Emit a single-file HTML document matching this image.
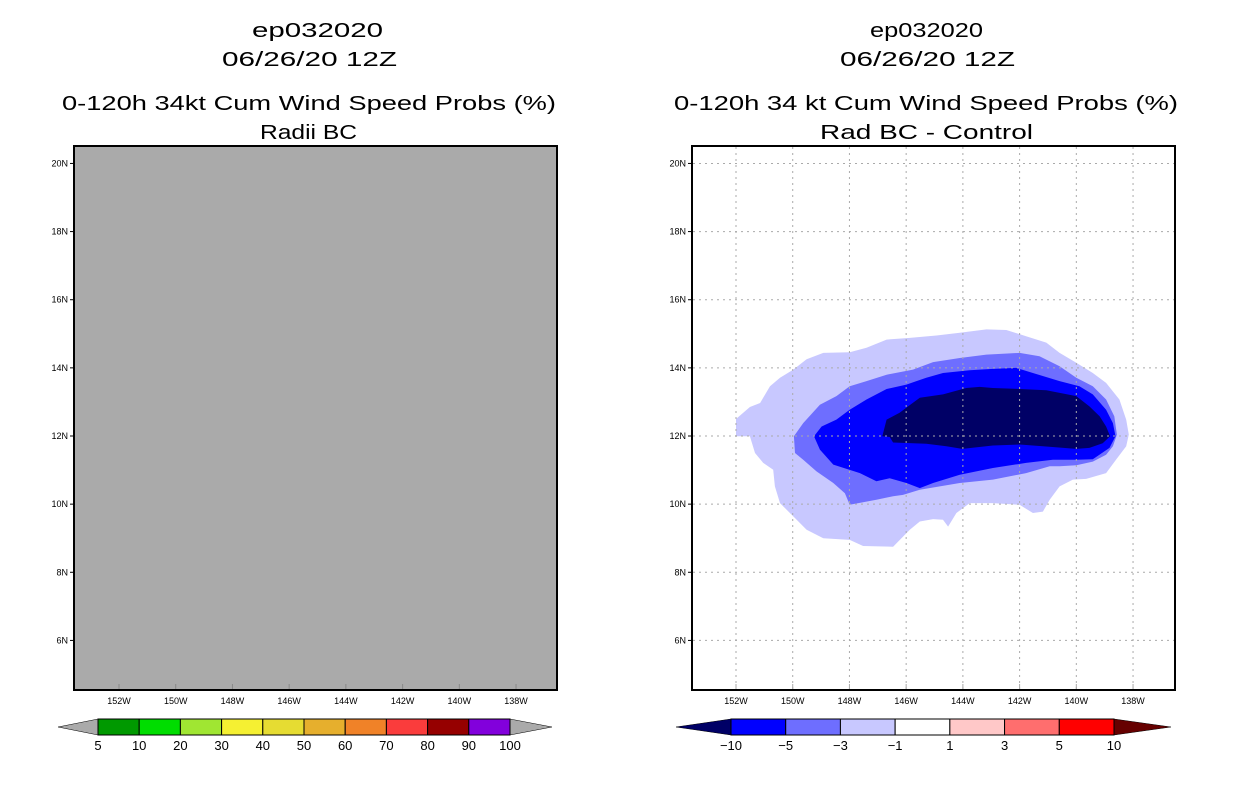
<!DOCTYPE html>
<html><head><meta charset="utf-8"><style>
body{margin:0;background:#fff;}
svg text{font-family:"Liberation Sans",sans-serif;}
</style></head><body>
<svg id="s" width="1236" height="800" xmlns="http://www.w3.org/2000/svg">
<g font-size="20" fill="#000">
<text x="252" y="37" textLength="131" lengthAdjust="spacingAndGlyphs">ep032020</text>
<text x="222" y="66" textLength="175" lengthAdjust="spacingAndGlyphs">06/26/20 12Z</text>
<text x="62" y="110" textLength="494" lengthAdjust="spacingAndGlyphs">0-120h 34kt Cum Wind Speed Probs (%)</text>
<text x="260" y="139" textLength="97" lengthAdjust="spacingAndGlyphs">Radii BC</text>
</g>
<g font-size="20" fill="#000">
<text x="870" y="37" textLength="113" lengthAdjust="spacingAndGlyphs">ep032020</text>
<text x="840" y="66" textLength="175" lengthAdjust="spacingAndGlyphs">06/26/20 12Z</text>
<text x="674" y="110" textLength="504" lengthAdjust="spacingAndGlyphs">0-120h 34 kt Cum Wind Speed Probs (%)</text>
<text x="820" y="139" textLength="213" lengthAdjust="spacingAndGlyphs">Rad BC - Control</text>
</g>
<g id="L"></g>
<g id="R"></g>
<g id="CB"></g>
</svg>
<script>
const lonTicks=[152,150,148,146,144,142,140,138];
const latTicks=[20,18,16,14,12,10,8,6];
const leftLevels=["5","10","20","30","40","50","60","70","80","90","100"];
const leftColors=["#009900","#00dd00","#a0e632","#f5f032","#e6dc32","#e6af2d","#f08228","#fa3c3c","#960000","#8200dc"];
const rightLevels=["-10","-5","-3","-1","1","3","5","10"];
const rightColors=["#0000ff","#6e6eff","#c8c8ff","#ffffff","#ffc8c8","#ff6e6e","#ff0000"];
const lightArea=[[152.00,12.50],[151.51,12.85],[151.15,12.97],[150.80,13.46],[150.45,13.71],[149.98,13.95],[149.51,14.25],[148.92,14.44],[147.99,14.46],[147.40,14.59],[146.69,14.83],[145.87,14.88],[144.93,14.95],[144.11,15.03],[143.17,15.13],[142.47,15.11],[141.77,14.93],[141.06,14.74],[140.59,14.44],[140.00,14.15],[139.42,13.85],[138.95,13.56],[138.48,13.07],[138.24,12.48],[138.15,12.04],[138.24,11.70],[138.60,11.30],[138.95,10.91],[139.65,10.74],[140.12,10.72],[140.59,10.52],[140.94,10.13],[141.18,9.78],[141.53,9.74],[142.00,9.98],[142.94,10.03],[143.76,10.03],[144.23,9.74],[144.52,9.34],[144.70,9.54],[145.05,9.56],[145.52,9.49],[145.87,9.25],[146.46,8.75],[147.52,8.77],[147.99,8.95],[148.92,9.00],[149.51,9.25],[149.98,9.64],[150.45,10.03],[150.63,10.52],[150.69,11.01],[151.04,11.21],[151.33,11.50],[151.51,11.99],[152.00,11.99]];
const mediumArea=[[149.96,11.99],[149.63,12.38],[149.04,12.92],[148.46,13.17],[147.99,13.46],[147.40,13.61],[146.69,13.80],[145.76,13.95],[145.05,14.17],[144.11,14.29],[143.17,14.39],[142.00,14.44],[141.30,14.34],[140.59,14.05],[140.00,13.71],[139.42,13.46],[138.95,13.07],[138.66,12.58],[138.57,12.04],[138.71,11.70],[138.95,11.45],[139.42,11.25],[140.00,11.14],[140.59,11.11],[140.94,11.11],[141.77,10.91],[142.94,10.72],[144.11,10.62],[145.52,10.42],[146.11,10.27],[146.46,10.23],[147.05,10.13],[147.99,9.98],[148.16,10.32],[148.57,10.62],[149.16,10.96],[149.63,11.30],[149.92,11.50]];
const blueArea=[[149.25,11.99],[148.98,12.28],[148.46,12.48],[147.99,12.77],[147.40,13.07],[146.69,13.38],[145.99,13.51],[145.29,13.71],[144.70,13.85],[143.76,13.93],[142.94,13.97],[142.12,14.00],[141.53,13.85],[140.59,13.61],[139.89,13.46],[139.42,13.22],[138.95,12.77],[138.71,12.38],[138.62,11.99],[138.83,11.65],[139.42,11.32],[140.00,11.30],[140.83,11.30],[141.77,11.21],[142.94,11.06],[144.11,10.86],[145.05,10.62],[145.52,10.47],[145.99,10.62],[146.58,10.76],[147.05,10.67],[147.63,10.91],[148.57,11.16],[149.04,11.60]];
const darkArea=[[146.84,11.99],[146.69,12.48],[146.23,12.68],[145.93,12.87],[145.52,13.12],[144.70,13.22],[143.88,13.41],[143.41,13.44],[142.94,13.41],[142.00,13.38],[141.06,13.34],[140.00,13.17],[139.54,12.87],[139.18,12.58],[138.95,12.28],[138.81,11.99],[139.07,11.79],[139.54,11.65],[140.00,11.62],[141.18,11.70],[142.00,11.75],[142.94,11.72],[144.02,11.62],[144.58,11.70],[145.29,11.77],[146.46,11.81],[146.58,11.97]];
const NS="http://www.w3.org/2000/svg";
function mk(p,t,a){const e=document.createElementNS(NS,t);for(const k in a)e.setAttribute(k,a[k]);p.appendChild(e);return e;}
function xs(off){return lw=>off+(152-lw)*28.36;}
function ys(lat){return 436-(lat-12)*34.07;}
function panel(g,fx,off,gray){
  const x=xs(off);
  if(gray){const r=mk(g,'rect',{x:fx,y:146,width:483,height:544,fill:'#aaaaaa'});
    
    }
  else{
    mk(g,'rect',{x:fx,y:146,width:483,height:544,fill:'#fff'});
    const areas=[[lightArea,'#c8c8ff','area-minus1-to-minus3'],[mediumArea,'#6e6eff','area-minus3-to-minus5'],[blueArea,'#0000ff','area-minus5-to-minus10'],[darkArea,'#000066','area-below-minus10']];
    for(const [a,c,n] of areas){
      const p=mk(g,'polygon',{points:a.map(q=>x(q[0]).toFixed(1)+','+ys(q[1]).toFixed(1)).join(' '),fill:c});
      
      
    }
    for(const l of lonTicks){const gl=mk(g,'line',{x1:x(l),x2:x(l),y1:147,y2:689,stroke:'#aaa','stroke-dasharray':'2,4'});
      
      }
    for(const l of latTicks){const gl=mk(g,'line',{x1:fx+1,x2:fx+482,y1:ys(l),y2:ys(l),stroke:'#aaa','stroke-dasharray':'2,4'});
      
      }
  }
  const fr=mk(g,'rect',{x:fx,y:146,width:483,height:544,fill:'none',stroke:'#000','stroke-width':2});
  
  
  for(const l of lonTicks){
    mk(g,'line',{x1:x(l),x2:x(l),y1:684,y2:689,stroke:gray?'#888':'#aaa'});
    const t=mk(g,'text',{x:x(l),y:704,'font-size':9,'text-anchor':'middle'});t.textContent=l+'W';
    
    
  }
  for(const l of latTicks){
    mk(g,'line',{x1:fx-4,x2:fx,y1:ys(l),y2:ys(l),stroke:'#000'});
    const t=mk(g,'text',{x:fx-6,y:ys(l)+3,'font-size':9,'text-anchor':'end'});t.textContent=l+'N';
    
    
  }
}
panel(document.getElementById('L'),74,119,true);
panel(document.getElementById('R'),692,736,false);
function cbar(g,x0,x1,xe0,xe1,cols,labs,lc,rc){
  const w=(x1-x0)/cols.length,y0=719,y1=735;
  const a=mk(g,'polygon',{points:`${xe0},727 ${x0},${y0} ${x0},${y1}`,fill:lc,stroke:'#000','stroke-width':0.5});
  
  
  const b=mk(g,'polygon',{points:`${xe1},727 ${x1},${y0} ${x1},${y1}`,fill:rc,stroke:'#000','stroke-width':0.5});
  
  
  cols.forEach((c,i)=>{const r=mk(g,'rect',{x:x0+i*w,y:y0,width:w,height:y1-y0,fill:c,stroke:'#000','stroke-width':1});
    
    });
  labs.forEach((l,i)=>{const t=mk(g,'text',{x:x0+i*w,y:750,'font-size':13,'text-anchor':'middle'});t.textContent=l.replace('-','\u2212');
    
    });
}
const cb=document.getElementById('CB');
cbar(cb,98,510,58,552,leftColors,leftLevels,'#aaaaaa','#aaaaaa');
cbar(cb,731,1114,676,1171,rightColors,rightLevels,'#000066','#660000');
</script>
</body></html>
